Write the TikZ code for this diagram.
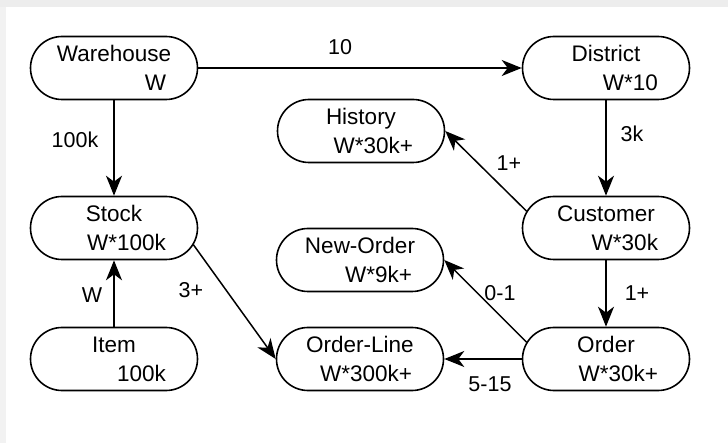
\documentclass[tikz,border=0pt]{standalone}
\usepackage{fontspec}
\setmainfont{Liberation Sans}
\usetikzlibrary{arrows.meta,shapes.misc}

\tikzset{
  tbl/.style={rounded rectangle,draw,line width=1.6pt,minimum width=153pt,minimum height=63pt,
    text width=104pt,inner xsep=-7pt,inner ysep=2pt,align=right,font=\fontsize{22.5}{29}\selectfont},
  rel/.style={-{Stealth[length=20pt,width=16pt,inset=6pt]},line width=1.5pt},
  card/.style={inner sep=1pt,font=\fontsize{21.5}{24}\selectfont}
}
\newcommand{\ent}[2]{\makebox[104pt][c]{#1}\\#2}

\begin{document}
\begin{tikzpicture}[x=1pt,y=-1pt,line cap=round,line join=round]
  \useasboundingbox (0,0) rectangle (728,443);
  \fill[white] (0,0) rectangle (728,443);
  \fill[black!7] (0,0) rectangle (728,7);
  \fill[black!5] (0,7) rectangle (6,443);
  % tables
  \node[tbl] (wh) at (114,68) {\ent{Warehouse}{W}};
  \node[tbl] (di) at (606,68) {\ent{District}{W*10}};
  \node[tbl] (hi) at (361,131) {\ent{History}{W*30k+}};
  \node[tbl] (st) at (114,228) {\ent{Stock}{W*100k}};
  \node[tbl] (cu) at (606,228) {\ent{Customer}{W*30k}};
  \node[tbl] (no) at (360,260) {\ent{New-Order}{W*9k+}};
  \node[tbl] (it) at (114,359) {\ent{Item}{100k}};
  \node[tbl] (ol) at (360,359) {\ent{Order-Line}{W*300k+}};
  \node[tbl] (od) at (606,359) {\ent{Order}{W*30k+}};
  % relations
  \draw[rel] (wh.east) -- (di.west);
  \draw[rel] (wh.south) -- (st.north);
  \draw[rel] (di.south) -- (cu.north);
  \draw[rel] (cu.168) -- (hi.east);
  \draw[rel] (cu.south) -- (od.north);
  \draw[rel] (od.168) -- (no.east);
  \draw[rel] (od.west) -- (ol.east);
  \draw[rel] (st.-12) -- (ol.west);
  \draw[rel] (it.north) -- (st.south);
  % cardinalities
  \node[card] (c10) at (340,47) {10};
  \node[card] (c100k) at (75,140) {100k};
  \node[card] (c3k) at (632,134) {3k};
  \node[card] (c1h) at (509,163) {1+};
  \node[card] (cw) at (92,295) {W};
  \node[card] (c3) at (191,290) {3+};
  \node[card] (c01) at (500,293) {0-1};
  \node[card] (c1o) at (637,293) {1+};
  \node[card] (c515) at (490,384) {5-15};
\end{tikzpicture}
\end{document}
